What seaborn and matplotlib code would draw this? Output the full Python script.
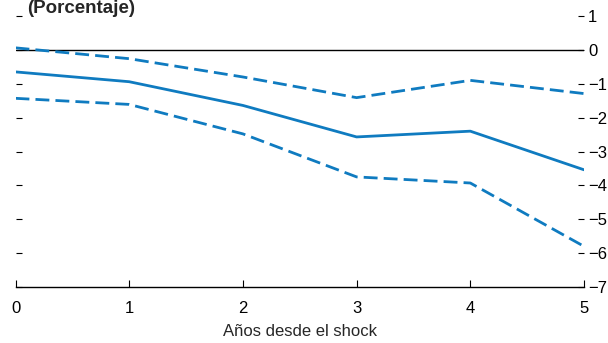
import matplotlib
matplotlib.use("Agg")
import matplotlib.pyplot as plt
import seaborn as sns
import pandas as pd

# Data
years = [0, 1, 2, 3, 4, 5]
central = [-0.65, -0.94, -1.64, -2.57, -2.40, -3.54]
upper = [0.06, -0.26, -0.80, -1.41, -0.90, -1.29]
lower = [-1.43, -1.61, -2.48, -3.75, -3.93, -5.80]
yticks = [1, 0, -1, -2, -3, -4, -5, -6, -7]
title = "(Porcentaje)"
xlabel = "Años desde el shock"

blue = "#0f7bc0"

sns.set_style("ticks")
plt.rcParams['font.family'] = ['Liberation Sans', 'DejaVu Sans']
plt.rcParams['axes.unicode_minus'] = True

df = pd.DataFrame({"year": years, "central": central, "upper": upper, "lower": lower})

fig = plt.figure(figsize=(6.08, 3.43), dpi=100)
ax = fig.add_axes([15.5 / 608, 1 - 287 / 343, (584 - 15.5) / 608, (287 - 16) / 343])

ax.axhline(0, color="black", lw=1.0, zorder=1)
sns.lineplot(data=df, x="year", y="central", ax=ax, color=blue, lw=2.0, zorder=3)
for col in ["upper", "lower"]:
    sns.lineplot(data=df, x="year", y=col, ax=ax, color=blue, lw=2.0,
                 zorder=3).lines[-1].set_dashes([5, 2.2])

ax.set_xlim(0, 5)
ax.set_ylim(-7, 1)
ax.set_xticks(years)
ax.set_yticks(yticks)

for s in ["top", "left", "right"]:
    ax.spines[s].set_visible(False)
ax.spines["bottom"].set_color("black")
ax.spines["bottom"].set_linewidth(1.0)

ax.tick_params(axis="x", direction="in", length=5, width=0.8, colors="black",
               labelsize=12, pad=10)
ax.tick_params(axis="y", direction="in", length=4.5, width=0.8, colors="black",
               labelsize=12, left=True, right=True, labelleft=False, labelright=True, pad=3)

ax.set_xlabel(xlabel, fontsize=12, labelpad=6)
ax.set_ylabel("")

fig.text(27 / 608, 1 - 13 / 343, title, fontsize=13.5, fontweight="bold",
         ha="left", va="baseline")

fig.savefig("out.png", dpi=100)
